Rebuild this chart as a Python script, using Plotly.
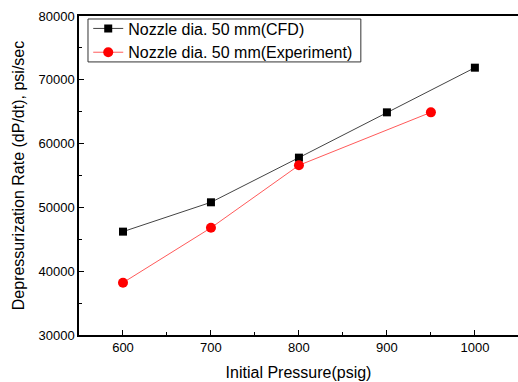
import plotly.graph_objects as go

# Initial pressure (psig) and depressurization rate (psi/sec)
pressure_cfd = [600, 700, 800, 900, 1000]
rate_cfd = [46200, 50800, 57800, 64900, 71900]

pressure_exp = [600, 700, 800, 950]
rate_exp = [38200, 46800, 56600, 64900]

x_ticks = [600, 700, 800, 900, 1000]
y_ticks = [30000, 40000, 50000, 60000, 70000, 80000]

font_family = "Arial, Liberation Sans, sans-serif"

fig = go.Figure()
fig.add_trace(go.Scatter(
    x=pressure_cfd, y=rate_cfd, mode="lines+markers",
    name="Nozzle dia. 50 mm(CFD)",
    line=dict(color="#444444", width=1),
    marker=dict(symbol="square", size=8, color="black"),
))
fig.add_trace(go.Scatter(
    x=pressure_exp, y=rate_exp, mode="lines+markers",
    name="Nozzle dia. 50 mm(Experiment)",
    line=dict(color="#ff5a5a", width=1),
    marker=dict(symbol="circle", size=10, color="#ff0000"),
))

axis_common = dict(
    showgrid=False, zeroline=False,
    showline=True, linecolor="black", linewidth=1.5,
    ticks="inside", ticklen=5, tickcolor="black", tickwidth=1,
    tickfont=dict(size=13, color="black", family=font_family),
)

fig.update_xaxes(
    **axis_common,
    range=[550, 1049], tickvals=x_ticks, ticktext=[str(v) for v in x_ticks], mirror=True,
    minor=dict(ticks="inside", ticklen=3, dtick=50, tick0=550, tickcolor="black"),
    title=dict(text="Initial Pressure(psig)", font=dict(size=16, color="black", family=font_family), standoff=12),
)
fig.update_yaxes(
    **axis_common,
    range=[30000, 80000], tickvals=y_ticks, ticktext=[str(v) for v in y_ticks],
    minor=dict(ticks="inside", ticklen=3, dtick=5000, tick0=30000, tickcolor="black"),
    title=dict(text="Depressurization Rate (dP/dt), psi/sec", font=dict(size=16, color="black", family=font_family), standoff=10),
)

# Legend frame drawn as a shape so the box can hug the two entries tightly
fig.add_shape(
    type="rect", xref="paper", yref="paper",
    x0=0.0205, x1=0.642, y0=0.856, y1=0.9906,
    line=dict(color="#333333", width=1), fillcolor="white", layer="below",
)

fig.update_layout(
    width=518, height=382,
    margin=dict(l=79, r=0, t=16, b=47),
    paper_bgcolor="white", plot_bgcolor="white",
    font=dict(family=font_family, color="black"),
    legend=dict(
        x=0.021, y=1.014, xanchor="left", yanchor="top",
        bgcolor="rgba(0,0,0,0)", borderwidth=0,
        font=dict(size=16, color="black", family=font_family),
        itemwidth=30, tracegroupgap=0,
    ),
    showlegend=True,
)

fig.write_html("out.html")
